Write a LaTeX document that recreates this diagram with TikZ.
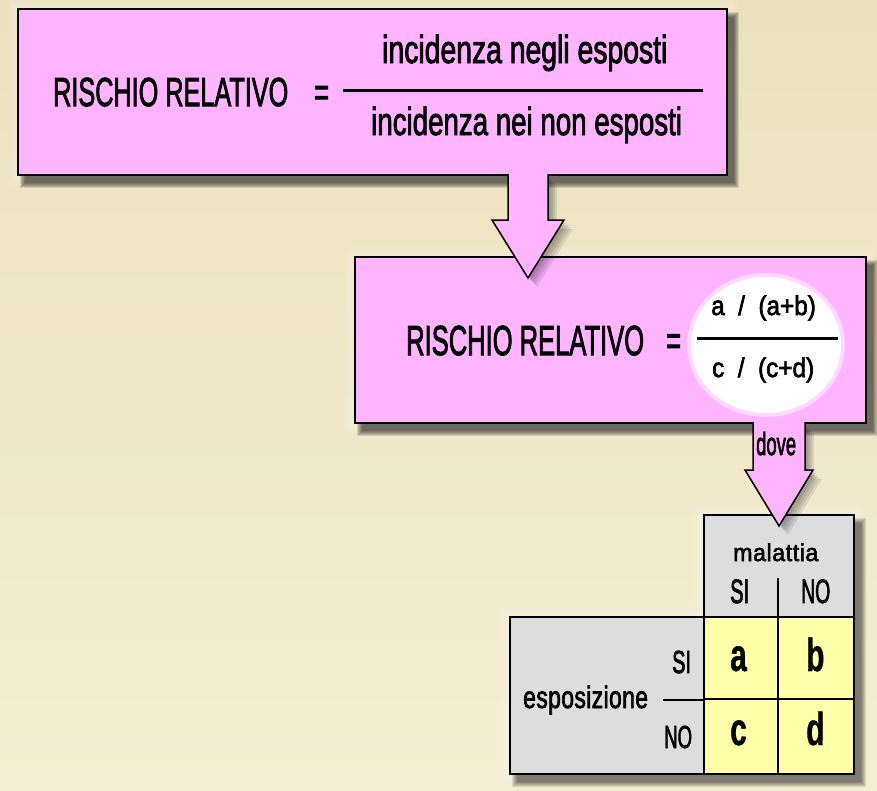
\documentclass[tikz,border=0pt]{standalone}
\usepackage{fontspec}
\setmainfont{Liberation Sans}
\newfontfamily\hv[FakeBold=2.5]{Liberation Sans}
\newfontfamily\hvb[FakeBold=1]{Liberation Sans Bold}
\usepackage{graphicx}
\usetikzlibrary{calc}
\definecolor{bgtop}{RGB}{236,225,190}
\definecolor{bgbot}{RGB}{245,238,212}
\definecolor{pinkf}{RGB}{255,180,255}
\definecolor{greyf}{RGB}{221,221,221}
\definecolor{yellowf}{RGB}{255,255,170}
\newcommand\T[3]{\scalebox{#1}[1]{\fontsize{#2pt}{#2pt}\hv\selectfont #3}}
\newcommand\TB[3]{\scalebox{#1}[1]{\fontsize{#2pt}{#2pt}\hvb\selectfont #3}}
\newcommand\softshadow[4]{%
  \foreach \k in {0,...,5}{\fill[black,opacity=0.12] (#1+7-\k,#2+8-\k) rectangle (#3+7+\k,#4+8+\k);}}
\newcommand\halo[4]{%
  \foreach \k in {2,4,...,10}{\fill[white,opacity=0.07] (#1-\k,#2-\k) rectangle (#3+\k,#4+\k);}}
\newcommand\blockarrow[7]{%
  \path[#7] (#1-#4,#2) -- (#1-#4,#3-#6) -- (#1-#5,#3-#6) -- (#1,#3) -- (#1+#5,#3-#6) -- (#1+#4,#3-#6) -- (#1+#4,#2);}
\tikzset{
  pinkbox/.style={draw=black,line width=2pt,fill=pinkf,inner sep=0pt},
  greycell/.style={draw=black,line width=1.5pt,fill=greyf,inner sep=0pt},
  yellowcell/.style={draw=black,line width=1.5pt,fill=yellowf,inner sep=0pt},
  txt/.style={inner sep=0pt,anchor=base west},
  arrowfill/.style={fill=pinkf,draw=black,line width=1.5pt,line join=miter},
  arrowshadow/.style={fill=black,opacity=0.09}
}
\begin{document}
\begin{tikzpicture}[x=1pt,y=-1pt]
\useasboundingbox (0,0) rectangle (877,790);
\shade[top color=bgtop,bottom color=bgbot] (0,0) rectangle (877,790);
% halos
\halo{18}{9}{727}{175}
\halo{355}{257}{866}{423}
\foreach \k in {2,4,...,10}{\fill[white,opacity=0.07] (704-\k,515-\k) rectangle (854+\k,617) (510-\k,617-\k) rectangle (854+\k,774+\k);}
% top box
\softshadow{18}{9}{727}{175}
\node[pinkbox,minimum width=709pt,minimum height=166pt] (top) at (372.5,92) {};
\node[txt] (rr1) at (53,106) {\T{0.623}{40.5}{RISCHIO RELATIVO}};
\node[txt] (eq1) at (314,106) {\T{0.623}{40.5}{=}};
\node[txt] (num1) at (382,63) {\T{0.725}{39.1}{incidenza negli esposti}};
\node[txt] (den1) at (371,135) {\T{0.708}{39.1}{incidenza nei non esposti}};
\draw[line width=3pt] (343,90) coordinate (f1a) -- (703,90) coordinate (f1b);
% second box
\softshadow{355}{257}{866}{423}
\node[pinkbox,minimum width=511pt,minimum height=166pt] (mid) at (610.5,340) {};
\fill[white,opacity=0.5] (766,345) ellipse [x radius=79pt,y radius=72pt];
\fill[white] (766,345) ellipse [x radius=75pt,y radius=68pt];
\node[txt] (rr2) at (406,355) {\T{0.608}{42}{RISCHIO RELATIVO}};
\node[txt] (eq2) at (666,355) {\T{0.608}{42}{=}};
\node[txt] (num2) at (711,315) {\T{0.9}{27}{a~~/~~(a+b)}};
\node[txt] (den2) at (712,377) {\T{0.9}{27}{c~~/~~(c+d)}};
\draw[line width=3pt] (697,338) coordinate (f2a) -- (838,338) coordinate (f2b);
% arrow 1
\foreach \s in {3,5,7,9}{\blockarrow{528+\s}{176+\s}{278+\s}{20}{36}{58}{arrowshadow}}
\blockarrow{528}{174}{278}{20}{36}{58}{arrowfill}
\coordinate (tip1) at (528,278);
% table
\foreach \k in {0,...,5}{\fill[black,opacity=0.1] (704+7-\k,515+8-\k) rectangle (854+7+\k,617+8+\k) (510+7-\k,617+8-\k) rectangle (854+7+\k,774+8+\k);}
\node[greycell,minimum width=150pt,minimum height=102pt] (hdr) at (779,566) {};
\node[greycell,minimum width=194pt,minimum height=157pt] (expo) at (607,695.5) {};
\node[yellowcell,minimum width=74pt,minimum height=82pt] (ca) at (741,658) {};
\node[yellowcell,minimum width=76pt,minimum height=82pt] (cb) at (816,658) {};
\node[yellowcell,minimum width=74pt,minimum height=75pt] (cc) at (741,736.5) {};
\node[yellowcell,minimum width=76pt,minimum height=75pt] (cd) at (816,736.5) {};
\draw[line width=2pt,line join=miter] (704,515) -- (854,515) -- (854,774) -- (510,774) -- (510,617) -- (704,617) -- cycle;
\draw[line width=1.5pt] (778,578) -- (778,617);
\draw[line width=1.5pt] (663,700) -- (704,700);
\node[txt] (mal) at (733,561) {\T{0.95}{24.4}{m\kern0.6pt a\kern0.6pt l\kern0.6pt a\kern0.6pt t\kern0.6pt t\kern0.6pt i\kern0.6pt a}};
\node[txt] (hsi) at (730,603) {\T{0.59}{34}{SI}};
\node[txt] (hno) at (801,603) {\T{0.57}{34}{NO}};
\node[txt] (lsi) at (672,673) {\T{0.62}{32}{SI}};
\node[txt] (lno) at (664,748) {\T{0.58}{32}{NO}};
\node[txt] (esp) at (523,708) {\T{0.74}{31}{e\kern0.5pt s\kern0.5pt p\kern0.5pt o\kern0.5pt s\kern0.5pt i\kern0.5pt z\kern0.5pt i\kern0.5pt o\kern0.5pt n\kern0.5pt e}};
\node[txt] (ta) at (730,671) {\TB{0.65}{46}{a}};
\node[txt] (tb) at (806,671) {\TB{0.65}{46}{b}};
\node[txt] (tc) at (730,745) {\TB{0.65}{46}{c}};
\node[txt] (td) at (806,745) {\TB{0.65}{46}{d}};
% arrow 2
\foreach \s in {3,5,7,9}{\blockarrow{779+\s}{424+\s}{526+\s}{26}{34}{56}{arrowshadow}}
\blockarrow{779}{422}{526}{26}{34}{56}{arrowfill}
\node[txt] (dove) at (756,455) {\T{0.575}{32}{dove}};
\end{tikzpicture}
\end{document}
